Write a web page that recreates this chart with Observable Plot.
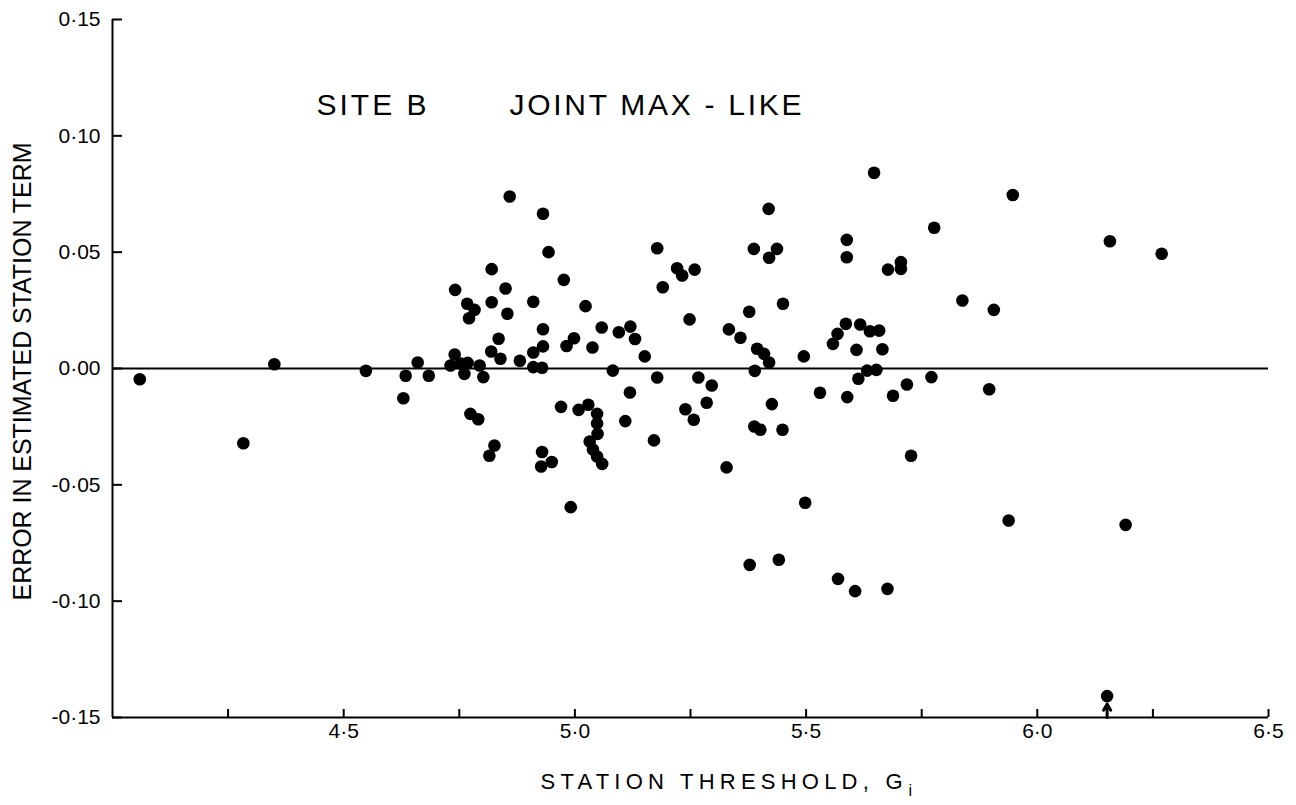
<!DOCTYPE html>
<html>
<head>
<meta charset="utf-8">
<script src="https://cdn.jsdelivr.net/npm/d3@7"></script>
<script src="https://cdn.jsdelivr.net/npm/@observablehq/plot@0.6"></script>
<style>
  html, body { margin: 0; padding: 0; background: #fff; }
  #chart { width: 1296px; height: 805px; }
</style>
</head>
<body>
<div id="chart"></div>
<script>
// ---- Data ----
const threshold = [
  4.059, 4.283, 4.350, 4.548, 4.634, 4.629, 4.660, 4.684, 4.741, 4.740,
  4.731, 4.753, 4.768, 4.761, 4.767, 4.783, 4.771, 4.820, 4.820, 4.819,
  4.835, 4.794, 4.802, 4.774, 4.791, 4.826, 4.815, 4.859, 4.850, 4.854,
  4.839, 4.881, 4.910, 4.931, 4.931, 4.943, 4.976, 4.910, 4.931, 4.910,
  4.929, 4.982, 4.998, 5.023, 5.038, 5.058, 5.082, 5.095, 5.120, 5.130,
  5.151, 5.178, 5.178, 5.190, 5.221, 5.232, 5.259, 5.248, 5.267, 5.296,
  5.119, 5.285, 5.239, 5.257, 5.109, 5.171, 4.970, 5.008, 5.029, 5.048,
  5.048, 5.049, 5.032, 5.039, 5.048, 5.059, 4.929, 4.950, 4.927, 4.991,
  5.328, 5.333, 5.358, 5.377, 5.387, 5.419, 5.437, 5.420, 5.450, 5.394,
  5.409, 5.420, 5.389, 5.426, 5.388, 5.401, 5.449, 5.495, 5.647, 5.947,
  5.777, 5.588, 5.588, 5.677, 5.705, 5.705, 6.157, 6.269, 5.838, 5.906,
  5.586, 5.617, 5.638, 5.658, 5.568, 5.558, 5.609, 5.665, 5.613, 5.632,
  5.652, 5.771, 5.718, 5.530, 5.589, 5.688, 5.896, 5.727, 5.938, 6.191,
  6.151, 5.498, 5.378, 5.441, 5.569, 5.606, 5.676
];
const stationError = [
  -0.0046, -0.0321, 0.0018, -0.0010, -0.0031, -0.0128, 0.0026, -0.0031, 0.0338, 0.0060,
  0.0013, 0.0021, 0.0024, -0.0023, 0.0278, 0.0252, 0.0216, 0.0427, 0.0285, 0.0073,
  0.0128, 0.0013, -0.0037, -0.0195, -0.0218, -0.0331, -0.0375, 0.0739, 0.0344, 0.0235,
  0.0042, 0.0033, 0.0287, 0.0169, 0.0665, 0.0500, 0.0381, 0.0069, 0.0095, 0.0006,
  0.0003, 0.0097, 0.0130, 0.0268, 0.0090, 0.0176, -0.0009, 0.0156, 0.0180, 0.0127,
  0.0052, -0.0039, 0.0517, 0.0349, 0.0431, 0.0400, 0.0425, 0.0211, -0.0039, -0.0073,
  -0.0103, -0.0147, -0.0175, -0.0220, -0.0226, -0.0309, -0.0165, -0.0178, -0.0156, -0.0195,
  -0.0236, -0.0281, -0.0314, -0.0348, -0.0378, -0.0410, -0.0359, -0.0402, -0.0421, -0.0596,
  -0.0425, 0.0168, 0.0132, 0.0244, 0.0514, 0.0686, 0.0514, 0.0476, 0.0278, 0.0085,
  0.0063, 0.0026, -0.0010, -0.0153, -0.0249, -0.0263, -0.0263, 0.0052, 0.0841, 0.0746,
  0.0605, 0.0553, 0.0478, 0.0425, 0.0457, 0.0428, 0.0547, 0.0493, 0.0292, 0.0252,
  0.0192, 0.0189, 0.0160, 0.0163, 0.0149, 0.0106, 0.0080, 0.0083, -0.0044, -0.0009,
  -0.0006, -0.0037, -0.0069, -0.0104, -0.0123, -0.0117, -0.0089, -0.0375, -0.0653, -0.0672,
  -0.1408, -0.0577, -0.0844, -0.0822, -0.0904, -0.0957, -0.0947
];
// point plotted at the lower edge (true value off scale), marked with an arrow
const offScale = [{threshold: 6.151, error: -0.1408}];

const xDomain = [4.0, 6.5];
const yDomain = [-0.15, 0.15];
const xTicks = [4.25, 4.5, 4.75, 5.0, 5.25, 5.5, 5.75, 6.0, 6.25, 6.5];
const xTickLabels = [4.5, 5.0, 5.5, 6.0, 6.5];
const yTicks = [-0.15, -0.10, -0.05, 0.00, 0.05, 0.10, 0.15];
const titleParts = ["SITE B", "JOINT MAX - LIKE"];
const xLabel = "STATION THRESHOLD, G";
const xLabelSub = "i";
const yLabel = "ERROR IN ESTIMATED STATION TERM";

const points = threshold.map((t, i) => ({threshold: t, error: stationError[i]}));

const fmtY = d => (d < -1e-9 ? "-" : "") + Math.abs(d).toFixed(2).replace(".", "\u00B7");
const fmtX = d => d.toFixed(1).replace(".", "\u00B7");

const FONT = "'Liberation Sans', Arial, sans-serif";

// layout
const W = 1296, H = 805, ML = 112, MR = 28, MT = 19, MB = 88;
const frameW = W - ML - MR, frameH = H - MT - MB;
// inward tick lengths (px) expressed in data units for the rules
const yTickLen = 10 * (xDomain[1] - xDomain[0]) / frameW;
const xTickLen = 8 * (yDomain[1] - yDomain[0]) / frameH;

const chart = Plot.plot({
  width: W,
  height: H,
  marginLeft: ML,
  marginRight: MR,
  marginTop: MT,
  marginBottom: MB,
  style: {fontFamily: FONT, fontSize: "21px", background: "#fff", color: "#000", overflow: "visible"},
  x: {domain: xDomain},
  y: {domain: yDomain},
  marks: [
    // axis lines
    Plot.ruleX([xDomain[0]], {stroke: "#000", strokeWidth: 2}),
    Plot.ruleY([yDomain[0]], {stroke: "#000", strokeWidth: 2}),
    // zero line
    Plot.ruleY([0], {stroke: "#000", strokeWidth: 2}),
    // inward tick marks
    Plot.ruleY(yTicks, {y: d => d, x1: () => xDomain[0], x2: () => xDomain[0] + yTickLen, stroke: "#000", strokeWidth: 2}),
    Plot.ruleX(xTicks, {x: d => d, y1: () => yDomain[0], y2: () => yDomain[0] + xTickLen, stroke: "#000", strokeWidth: 2}),
    // tick labels
    Plot.axisY({ticks: yTicks, tickSize: 0, tickPadding: 12, tickFormat: fmtY, label: null}),
    Plot.axisX({ticks: xTickLabels, tickSize: 0, tickPadding: 6, tickFormat: fmtX, label: null}),
    // data
    Plot.dot(points, {x: "threshold", y: "error", r: 6.3, fill: "#000", stroke: "none"}),
    Plot.arrow(offScale, {
      x1: "threshold", x2: "threshold",
      y1: () => yDomain[0], y2: "error",
      insetEnd: 8, headLength: 7, strokeWidth: 3, stroke: "#000"
    }),
    // title inside the frame
    Plot.text([titleParts[0]], {frameAnchor: "top-left", dx: 204, dy: 74, textAnchor: "start", fontSize: 30}),
    Plot.text([titleParts[1]], {frameAnchor: "top-left", dx: 397, dy: 74, textAnchor: "start", fontSize: 30}),
    // axis titles
    Plot.text([yLabel], {frameAnchor: "left", dx: -90, dy: 232, rotate: -90, textAnchor: "start", fontSize: 26}),
    Plot.text([xLabel], {frameAnchor: "bottom", dx: -150, dy: 71, textAnchor: "start", fontSize: 22})
  ]
});

document.getElementById("chart").appendChild(chart);

const root = chart.tagName.toLowerCase() === "svg" ? chart : chart.querySelector("svg");
const svg = d3.select(root);

// typographic adjustments: letter spacing via textLength, subscript on G
svg.selectAll("text").each(function () {
  const el = d3.select(this);
  const t = this.textContent;
  if (t === titleParts[0]) el.attr("textLength", 110).attr("lengthAdjust", "spacing");
  if (t === titleParts[1]) el.attr("textLength", 292).attr("lengthAdjust", "spacing");
  if (t === yLabel) el.attr("textLength", 458).attr("lengthAdjust", "spacingAndGlyphs");
  if (t === xLabel) {
    el.attr("textLength", 362).attr("lengthAdjust", "spacing");
    d3.select(this.parentNode).append("text")
      .attr("transform", el.attr("transform"))
      .attr("x", (+el.attr("x") || 0) + 368)
      .attr("y", (+el.attr("y") || 0) + 7)
      .attr("dy", el.attr("dy"))
      .attr("font-size", 16)
      .attr("text-anchor", "start")
      .text(xLabelSub);
  }
});
</script>
</body>
</html>
